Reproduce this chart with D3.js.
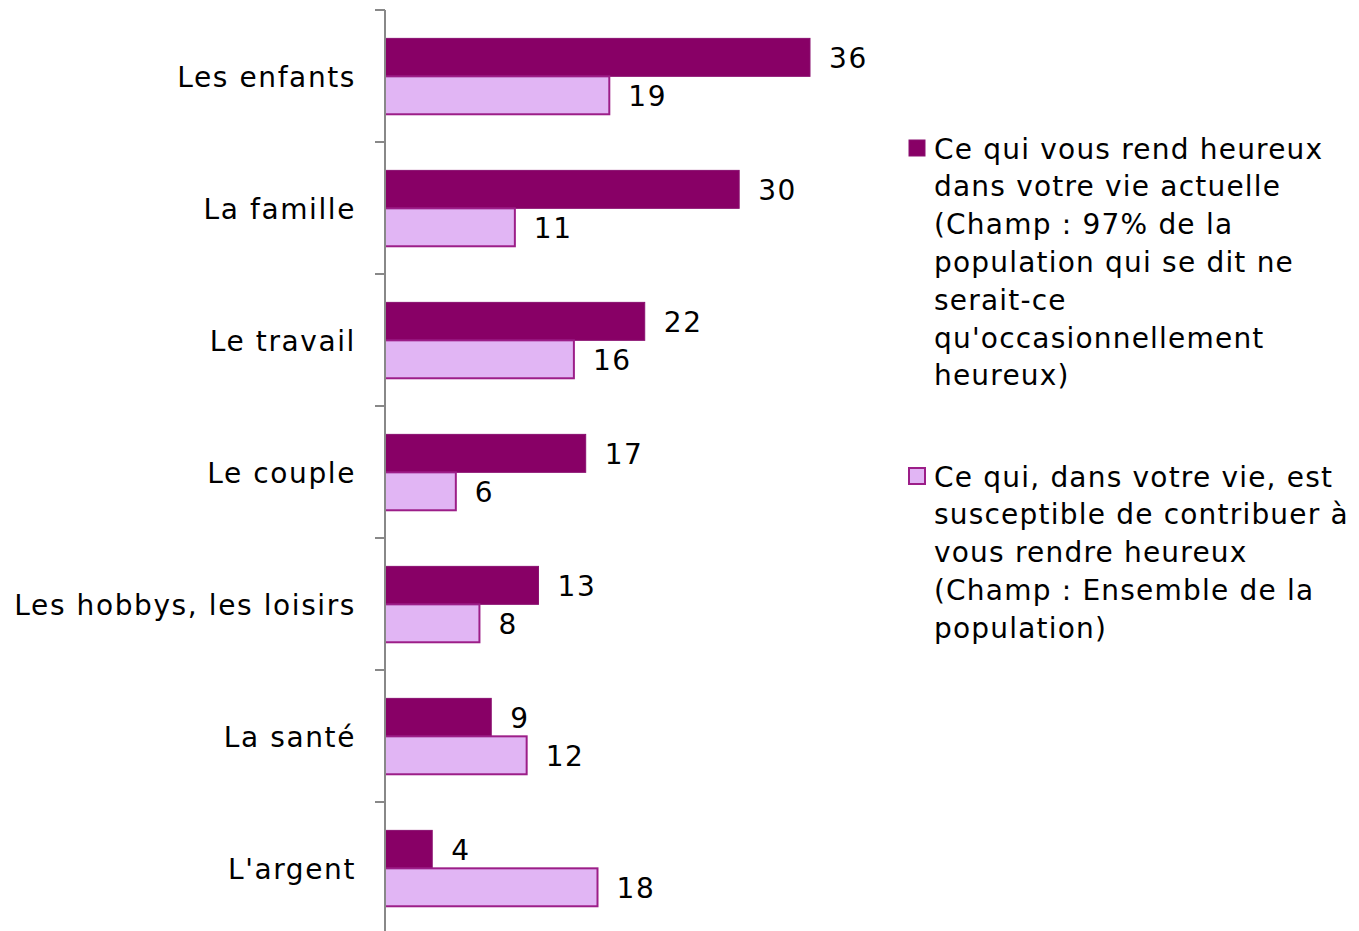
<!DOCTYPE html>
<html>
<head>
<meta charset="utf-8">
<script src="https://cdn.jsdelivr.net/npm/d3@7"></script>
<style>
  body { margin: 0; background: #fff; }
  svg { font-family: "DejaVu Sans", Verdana, sans-serif; letter-spacing: 1.6px; }
</style>
</head>
<body>
<div id="chart"></div>
<script>
// categories and values
const categories = ['Les enfants', 'La famille', 'Le travail', 'Le couple',
    'Les hobbys, les loisirs', 'La santé', "L'argent"];
const heureux = [36, 30, 22, 17, 13, 9, 4];
const contribuer = [19, 11, 16, 6, 8, 12, 18];

const legendHeureux = ['Ce qui vous rend heureux', 'dans votre vie actuelle',
    '(Champ : 97% de la', 'population qui se dit ne', 'serait-ce',
    "qu'occasionnellement", 'heureux)'];
const legendContribuer = ['Ce qui, dans votre vie, est', 'susceptible de contribuer à',
    'vous rendre heureux', '(Champ : Ensemble de la', 'population)'];

const series = [
    { key: 'heureux', values: heureux, fill: '#880066', stroke: '#8a1070', legend: legendHeureux },
    { key: 'contribuer', values: contribuer, fill: '#e1b5f4', stroke: '#9c1e88', legend: legendContribuer }
];

const width = 1359, height = 931;
const axisX = 385;

const svg = d3.select('#chart').append('svg')
    .attr('width', width)
    .attr('height', height);

const y = d3.scaleBand()
    .domain(categories)
    .range([10, 934])
    .paddingInner(0)
    .paddingOuter(0);

const inner = d3.scaleBand()
    .domain(series.map(s => s.key))
    .range([y.bandwidth() * 0.215, y.bandwidth() * 0.79]);

const x = d3.scaleLinear()
    .domain([0, 36])
    .range([axisX, axisX + 425]);

// bars
series.forEach(s => {
    const g = svg.append('g');
    g.selectAll('rect')
        .data(categories)
        .join('rect')
        .attr('x', x(0))
        .attr('y', d => y(d) + inner(s.key))
        .attr('width', (d, i) => x(s.values[i]) - x(0))
        .attr('height', inner.bandwidth())
        .attr('fill', s.fill)
        .attr('stroke', s.stroke)
        .attr('stroke-width', s.key === 'heureux' ? 1 : 2);

    g.selectAll('text')
        .data(categories)
        .join('text')
        .attr('x', (d, i) => x(s.values[i]) + 19)
        .attr('y', d => y(d) + inner(s.key) + inner.bandwidth() / 2)
        .attr('dy', '0.38em')
        .attr('font-size', '28px')
        .attr('fill', '#000')
        .text((d, i) => s.values[i]);
});

// vertical axis with ticks between categories
const tickPos = categories.map(c => y(c));
svg.append('line')
    .attr('x1', axisX).attr('x2', axisX)
    .attr('y1', 10).attr('y2', height)
    .attr('stroke', '#888')
    .attr('stroke-width', 2);

svg.append('g').selectAll('line')
    .data(tickPos)
    .join('line')
    .attr('x1', axisX - 10).attr('x2', axisX)
    .attr('y1', d => d).attr('y2', d => d)
    .attr('stroke', '#888')
    .attr('stroke-width', 2);

// category labels
svg.append('g').selectAll('text')
    .data(categories)
    .join('text')
    .attr('x', 356)
    .attr('y', d => y(d) + y.bandwidth() / 2)
    .attr('dy', '0.38em')
    .attr('text-anchor', 'end')
    .attr('font-size', '28px')
    .attr('fill', '#000')
    .text(d => d);

// legend
const legendTop = [148, 476];
series.forEach((s, i) => {
    const lg = svg.append('g');
    lg.append('rect')
        .attr('x', 909)
        .attr('y', legendTop[i] - 8)
        .attr('width', 16)
        .attr('height', 16)
        .attr('fill', s.fill)
        .attr('stroke', s.stroke)
        .attr('stroke-width', s.key === 'heureux' ? 1 : 2);

    lg.selectAll('text')
        .data(s.legend)
        .join('text')
        .attr('x', 934)
        .attr('y', (d, j) => legendTop[i] + j * 37.8)
        .attr('dy', '0.38em')
        .attr('font-size', '28px')
        .attr('letter-spacing', '1.2px')
        .attr('fill', '#000')
        .text(d => d);
});
</script>
</body>
</html>
